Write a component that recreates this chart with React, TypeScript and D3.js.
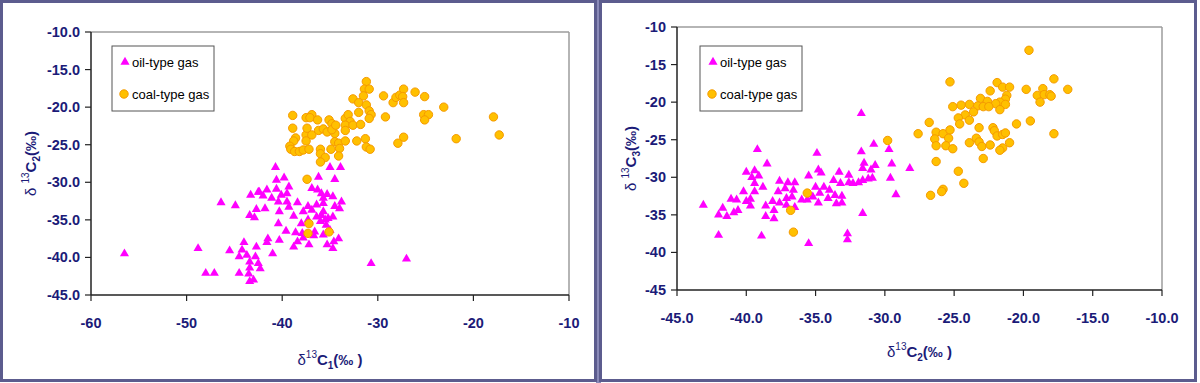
import React from 'react';
import * as d3 from 'd3';

// ---------- DATA ----------
// Left chart: δ13C1 (x) vs δ13C2 (y)
const leftOil: [number, number][] = [
  [-40.7, -28.0], [-40.6, -29.7], [-39.8, -29.4], [-40.6, -30.9], [-39.3, -30.6], [-39.5, -31.5],
  [-40.1, -31.7], [-42.4, -31.3], [-41.6, -31.0], [-43.3, -31.7], [-42.0, -31.8], [-41.1, -32.1],
  [-40.4, -32.6], [-39.5, -32.6], [-38.4, -32.7], [-46.4, -32.7], [-44.9, -33.1], [-42.7, -33.6],
  [-41.8, -33.5], [-40.3, -33.9], [-39.3, -33.3], [-43.4, -34.4], [-42.9, -34.7], [-38.8, -34.5],
  [-40.4, -35.5], [-39.6, -36.5], [-41.5, -37.5], [-41.6, -38.0], [-40.3, -37.7], [-44.0, -38.0],
  [-42.7, -38.6], [-44.2, -39.0], [-45.5, -39.1], [-48.8, -38.8], [-44.5, -39.9], [-43.7, -39.7],
  [-42.8, -39.9], [-43.4, -40.6], [-42.5, -40.8], [-41.0, -39.5], [-43.4, -41.4], [-42.3, -41.5],
  [-44.5, -42.1], [-48.0, -42.1], [-47.1, -42.1], [-43.5, -42.2], [-43.4, -43.2], [-43.0, -43.0],
  [-30.7, -40.8], [-38.8, -38.6], [-38.4, -37.9], [-37.8, -37.4], [-37.2, -38.3], [-38.6, -36.7],
  [-36.7, -37.1], [-35.7, -37.0], [-35.3, -38.3], [-34.7, -38.8], [-34.6, -37.9], [-34.1, -37.5],
  [-38.0, -35.5], [-37.3, -35.0], [-36.4, -34.6], [-35.9, -34.4], [-35.5, -35.0], [-35.2, -34.8],
  [-34.7, -34.6], [-36.0, -35.2], [-35.7, -33.9], [-37.8, -33.9], [-36.9, -33.7], [-37.3, -33.2],
  [-36.4, -33.0], [-35.7, -32.8], [-34.5, -33.2], [-34.0, -33.5], [-33.8, -32.6], [-34.7, -31.9],
  [-35.3, -31.6], [-35.9, -31.5], [-36.3, -31.0], [-36.9, -30.8], [-35.7, -32.1], [-36.2, -29.3],
  [-34.5, -29.6], [-35.0, -28.0], [-33.9, -28.0], [-37.9, -36.8], [-36.6, -36.6], [-35.4, -35.7],
  [-35.0, -36.4], [-56.5, -39.5], [-27.0, -40.2], [-42.5, -31.3],
];

const leftCoal: [number, number][] = [
  [-31.2, -16.6], [-31.4, -17.6], [-30.9, -17.6], [-31.5, -18.5], [-32.6, -18.9], [-32.0, -19.4],
  [-31.2, -19.7], [-30.9, -20.5], [-30.7, -21.0], [-30.9, -21.5], [-32.0, -20.7], [-29.4, -18.5],
  [-28.4, -19.4], [-28.1, -18.7], [-27.7, -18.4], [-27.3, -17.6], [-27.4, -18.6], [-27.3, -19.4],
  [-26.1, -18.0], [-25.1, -18.6], [-23.1, -20.0], [-29.2, -21.3], [-25.2, -21.0], [-24.7, -21.0],
  [-25.1, -21.7], [-17.9, -21.3], [-17.3, -23.7], [-21.8, -24.2], [-27.3, -24.0], [-27.9, -24.8],
  [-38.9, -21.1], [-37.5, -21.4], [-36.9, -21.0], [-37.1, -21.4], [-36.3, -21.7], [-38.9, -22.8],
  [-38.6, -24.1], [-38.8, -24.5], [-39.2, -25.2], [-39.1, -25.6], [-38.7, -25.9], [-38.2, -25.9],
  [-37.8, -25.7], [-37.2, -25.6], [-37.5, -23.7], [-37.4, -22.8], [-36.9, -23.7], [-37.5, -24.5],
  [-36.2, -23.1], [-35.7, -22.9], [-35.1, -21.7], [-34.8, -22.2], [-35.3, -23.3], [-34.5, -23.5],
  [-34.8, -23.0], [-34.4, -22.4], [-33.4, -21.5], [-33.1, -21.0], [-32.9, -21.9], [-33.4, -22.4],
  [-33.4, -23.1], [-32.6, -22.4], [-31.8, -22.3], [-34.5, -24.6], [-34.1, -24.8], [-33.4, -24.5],
  [-34.0, -25.5], [-34.9, -25.6], [-36.0, -25.6], [-36.0, -26.2], [-35.5, -26.7], [-36.0, -27.3],
  [-34.1, -26.5], [-32.2, -24.5], [-31.3, -24.2], [-31.2, -25.3], [-30.8, -25.6], [-37.4, -29.6],
  [-37.2, -35.5], [-37.3, -36.8], [-35.1, -36.6],
];

// Right chart: δ13C2 (x) vs δ13C3 (y)
const rightOil: [number, number][] = [
  [-31.7, -21.5], [-39.2, -26.3], [-38.5, -28.2], [-34.9, -26.8], [-30.8, -25.6], [-31.7, -26.6],
  [-29.7, -26.3], [-29.5, -28.2], [-29.6, -30.1], [-29.2, -32.3], [-28.2, -28.8], [-40.0, -29.3],
  [-39.4, -29.1], [-39.6, -30.0], [-39.1, -29.8], [-39.4, -30.8], [-38.8, -31.3], [-40.2, -31.9],
  [-39.4, -31.9], [-39.7, -32.9], [-41.1, -32.9], [-40.7, -33.0], [-40.0, -33.2], [-39.7, -33.8],
  [-40.6, -34.4], [-40.9, -34.7], [-41.7, -34.1], [-42.0, -35.0], [-41.4, -35.2], [-43.1, -33.7],
  [-42.0, -37.7], [-38.9, -37.8], [-37.6, -30.5], [-37.0, -30.7], [-36.5, -30.7], [-37.7, -31.9],
  [-37.2, -31.5], [-36.6, -31.7], [-38.6, -33.8], [-38.1, -33.2], [-37.6, -33.4], [-37.1, -32.8],
  [-36.7, -32.6], [-37.1, -33.7], [-38.0, -34.4], [-38.6, -35.2], [-38.0, -35.5], [-36.5, -34.0],
  [-36.0, -33.0], [-35.5, -29.8], [-34.8, -29.0], [-34.6, -29.4], [-35.0, -31.3], [-34.4, -31.3],
  [-35.2, -32.6], [-34.7, -32.1], [-35.6, -33.0], [-34.8, -33.4], [-34.1, -32.8], [-33.6, -32.4],
  [-33.1, -32.5], [-33.5, -33.5], [-33.1, -33.4], [-34.0, -31.7], [-33.7, -30.4], [-33.3, -29.3],
  [-33.2, -30.8], [-32.6, -29.7], [-32.6, -30.7], [-32.3, -30.8], [-31.9, -30.7], [-31.6, -30.4],
  [-31.6, -28.8], [-31.5, -28.1], [-31.0, -29.0], [-30.7, -28.4], [-30.9, -30.1], [-31.2, -30.2],
  [-31.6, -34.8], [-32.7, -37.5], [-32.7, -38.3], [-35.5, -38.8],
];

const rightCoal: [number, number][] = [
  [-19.6, -13.1], [-25.3, -17.3], [-21.9, -17.4], [-21.5, -18.0], [-21.0, -18.0], [-22.4, -18.5],
  [-19.8, -18.3], [-18.6, -18.2], [-17.8, -16.9], [-16.8, -18.3], [-19.0, -19.1], [-18.5, -19.0],
  [-18.1, -19.0], [-18.0, -19.2], [-18.8, -20.0], [-21.2, -19.1], [-21.3, -19.6], [-21.7, -20.0],
  [-22.0, -20.2], [-21.3, -20.3], [-21.7, -21.0], [-23.1, -19.5], [-22.6, -19.9], [-23.3, -20.5],
  [-22.9, -20.6], [-22.5, -20.6], [-23.9, -20.3], [-24.5, -20.4], [-25.1, -20.6], [-23.6, -21.3],
  [-24.2, -21.7], [-24.7, -22.1], [-23.9, -22.4], [-24.6, -22.9], [-26.8, -22.7], [-27.6, -24.2],
  [-26.3, -24.0], [-25.8, -24.2], [-25.3, -23.7], [-25.4, -24.8], [-26.4, -24.9], [-26.3, -25.8],
  [-25.6, -25.8], [-25.1, -26.2], [-23.9, -25.4], [-23.4, -24.8], [-23.2, -25.3], [-23.0, -25.9],
  [-22.4, -25.7], [-23.2, -23.4], [-22.2, -23.4], [-22.1, -23.8], [-21.9, -24.5], [-21.5, -24.3],
  [-21.3, -24.1], [-20.5, -22.9], [-19.5, -22.5], [-17.8, -24.2], [-21.0, -25.4], [-21.5, -26.1],
  [-21.7, -26.4], [-22.9, -27.5], [-26.3, -27.9], [-24.7, -29.2], [-24.3, -30.8], [-25.8, -31.6],
  [-25.9, -31.9], [-26.7, -32.4], [-29.8, -25.1], [-35.6, -32.1], [-36.8, -34.4], [-36.6, -37.3],
];

const leftXTicks = [-60, -50, -40, -30, -20, -10];
const leftYTicks = [-45, -40, -35, -30, -25, -20, -15, -10];
const rightXTicks = [-45, -40, -35, -30, -25, -20, -15, -10];
const rightYTicks = [-45, -40, -35, -30, -25, -20, -15, -10];

const seriesNames = ['oil-type gas', 'coal-type gas'];

// ---------- STYLE ----------
const NAVY = '#1b1b78';
const MAGENTA = '#ff00ff';
const GOLD = '#ffc000';
const ORANGE = '#f59a00';
const FONT = "Arial, 'Liberation Sans', sans-serif";

const triPath = d3.symbol().type(d3.symbolTriangle).size(36)() as string;

type PanelCfg = {
  plot: { x0: number; x1: number; y0: number; y1: number };
  xDomain: [number, number];
  yDomain: [number, number];
  xTicks: number[];
  yTicks: number[];
  xFmt: string;
  yFmt: string;
  oil: [number, number][];
  coal: [number, number][];
  xSub: string;
  ySub: string;
  yTitleX: number;
  xTitleY: number;
  legend: { x: number; y: number; w: number; h: number };
};

function Panel({ cfg }: { cfg: PanelCfg }) {
  const { plot } = cfg;
  const x = d3.scaleLinear().domain(cfg.xDomain).range([plot.x0, plot.x1]);
  const y = d3.scaleLinear().domain(cfg.yDomain).range([plot.y1, plot.y0]);
  const xf = d3.format(cfg.xFmt);
  const yf = d3.format(cfg.yFmt);
  const fmtMinus = (s: string) => s.replace('−', '-');
  const cx = (plot.x0 + plot.x1) / 2;
  const cy = (plot.y0 + plot.y1) / 2;
  const L = cfg.legend;
  return (
    <g>
      <line x1={plot.x0} x2={plot.x1} y1={plot.y0} y2={plot.y0} stroke="#9c9c9c" strokeWidth={1.5} />
      <line x1={plot.x1} x2={plot.x1} y1={plot.y0} y2={plot.y1} stroke="#9c9c9c" strokeWidth={1.5} />
      <line x1={plot.x0} x2={plot.x0} y1={plot.y0} y2={plot.y1} stroke="#222" strokeWidth={1.5} />
      <line x1={plot.x0} x2={plot.x1} y1={plot.y1} y2={plot.y1} stroke="#222" strokeWidth={1.5} />
      {cfg.yTicks.map((t) => (
        <g key={'y' + t}>
          <line x1={plot.x0 - 6} x2={plot.x0} y1={y(t)} y2={y(t)} stroke="#222" strokeWidth={1.2} />
          <text x={plot.x0 - 11} y={y(t) + 5} textAnchor="end" fontFamily={FONT} fontWeight="bold"
            fontSize={14.5} fill={NAVY}>{fmtMinus(yf(t))}</text>
        </g>
      ))}
      {cfg.xTicks.map((t) => (
        <g key={'x' + t}>
          <line x1={x(t)} x2={x(t)} y1={plot.y1} y2={plot.y1 + 6} stroke="#222" strokeWidth={1.2} />
          <text x={x(t)} y={plot.y1 + 33} textAnchor="middle" fontFamily={FONT} fontWeight="bold"
            fontSize={14.5} fill={NAVY}>{fmtMinus(xf(t))}</text>
        </g>
      ))}
      {cfg.oil.map((d, i) => (
        <path key={'o' + i} d={triPath} transform={`translate(${x(d[0])},${y(d[1])})`} fill={MAGENTA} />
      ))}
      {cfg.coal.map((d, i) => (
        <circle key={'c' + i} cx={x(d[0])} cy={y(d[1])} r={4.2} fill={GOLD} stroke={ORANGE} strokeWidth={1} />
      ))}
      <rect x={L.x} y={L.y} width={L.w} height={L.h} fill="white" stroke="#555" strokeWidth={1} />
      <path d={triPath} transform={`translate(${L.x + 13},${L.y + 16})`} fill={MAGENTA} />
      <text x={L.x + 20} y={L.y + 21} fontFamily={FONT} fontSize={13} fill="#000">{seriesNames[0]}</text>
      <circle cx={L.x + 12} cy={L.y + 48} r={4.2} fill={GOLD} stroke={ORANGE} strokeWidth={1} />
      <text x={L.x + 20} y={L.y + 53} fontFamily={FONT} fontSize={13} fill="#000">{seriesNames[1]}</text>
      <text x={cx} y={cfg.xTitleY} textAnchor="middle" fontFamily={FONT} fontSize={15} fill={NAVY}>
        <tspan>δ</tspan>
        <tspan dy={-7} fontSize={10}>13</tspan>
        <tspan dy={7} fontWeight="bold">C</tspan>
        <tspan dy={4} fontSize={10} fontWeight="bold">{cfg.xSub}</tspan>
        <tspan dy={-4} fontWeight="bold">(‰ )</tspan>
      </text>
      <text transform={`translate(${cfg.yTitleX},${cy}) rotate(-90)`} textAnchor="middle" fontFamily={FONT}
        fontSize={15} fill={NAVY}>
        <tspan>δ </tspan>
        <tspan dy={-7} fontSize={10}>13</tspan>
        <tspan dy={7} fontWeight="bold">C</tspan>
        <tspan dy={4} fontSize={10} fontWeight="bold">{cfg.ySub}</tspan>
        <tspan dy={-4} fontWeight="bold">(‰)</tspan>
      </text>
    </g>
  );
}

const leftCfg: PanelCfg = {
  plot: { x0: 91, x1: 569, y0: 32, y1: 295 },
  xDomain: [-60, -10],
  yDomain: [-45, -10],
  xTicks: leftXTicks,
  yTicks: leftYTicks,
  xFmt: 'd',
  yFmt: '.1f',
  oil: leftOil,
  coal: leftCoal,
  xSub: '1',
  ySub: '2',
  yTitleX: 36,
  xTitleY: 365,
  legend: { x: 112, y: 46, w: 102, h: 65 },
};

const rightCfg: PanelCfg = {
  plot: { x0: 677, x1: 1162, y0: 27, y1: 290 },
  xDomain: [-45, -10],
  yDomain: [-45, -10],
  xTicks: rightXTicks,
  yTicks: rightYTicks,
  xFmt: '.1f',
  yFmt: 'd',
  oil: rightOil,
  coal: rightCoal,
  xSub: '2',
  ySub: '3',
  yTitleX: 636,
  xTitleY: 357,
  legend: { x: 700, y: 46, w: 102, h: 65 },
};

export default function App() {
  return (
    <svg width={1200} height={383} style={{ position: 'absolute', left: 0, top: 0, display: 'block' }}>
      <rect x={0} y={0} width={1200} height={383} fill="white" />
      <rect x={596} y={0} width={5} height={383} fill="#8a8ab8" />
      <rect x={1.5} y={1.5} width={594} height={379} fill="white" stroke="#5c5c8e" strokeWidth={3} />
      <rect x={600.5} y={1.5} width={595} height={379} fill="white" stroke="#5c5c8e" strokeWidth={3} />
      <Panel cfg={leftCfg} />
      <Panel cfg={rightCfg} />
    </svg>
  );
}
